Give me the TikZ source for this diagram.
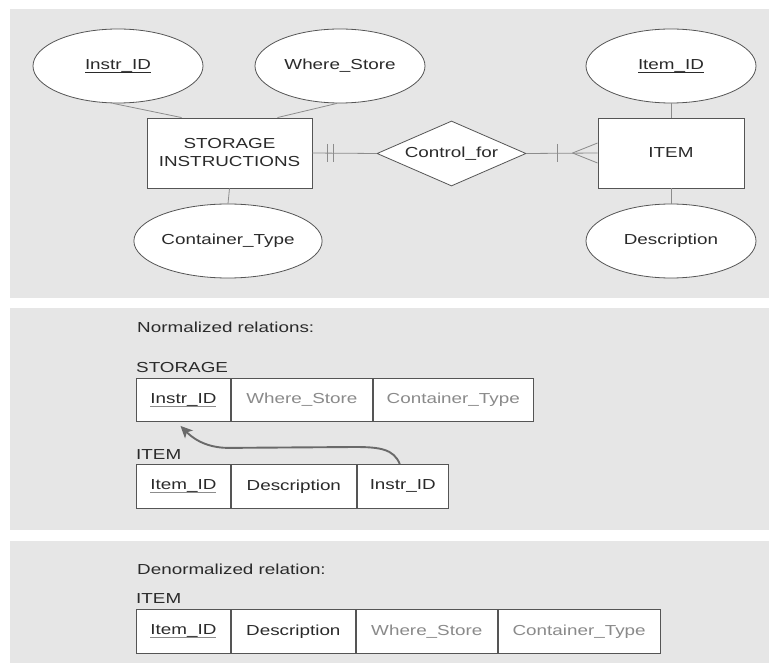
\documentclass[tikz,border=0pt]{standalone}
\usepackage{fontspec}
\setmainfont[FakeStretch=1.3]{Liberation Sans}
\usetikzlibrary{shapes.geometric,arrows.meta,calc}

\definecolor{panelbg}{HTML}{E6E6E6}
\definecolor{ink}{HTML}{2A2A2A}
\definecolor{softink}{HTML}{8A8A8A}
\definecolor{edgegray}{HTML}{555555}
\definecolor{linkgray}{HTML}{8C8C8C}
\definecolor{ulgray}{HTML}{8C8C8C}
\definecolor{arrowgray}{HTML}{6A6A6A}

% primary-key underline in a lighter tone than the text
\newcommand\pkey[1]{\setbox0\hbox{#1}\rlap{\color{ulgray}\rule[-3.2pt]{\wd0}{1pt}}\box0}
\newcommand\erkey[1]{\setbox0\hbox{#1}\rlap{\rule[-3.2pt]{\wd0}{0.8pt}}\box0}

\tikzset{
  txt/.style={font=\fontsize{14.5}{18}\selectfont, text=ink},
  panel/.style={fill=panelbg, draw=none},
  attr/.style={txt, ellipse, draw=edgegray, fill=white, line width=0.8pt,
               minimum width=170pt, minimum height=74pt, inner sep=0pt},
  entity/.style={txt, rectangle, draw=edgegray, fill=white, line width=0.9pt,
                 minimum height=70pt, inner sep=0pt, align=center},
  relship/.style={txt, diamond, aspect=2.3, draw=edgegray, fill=white, line width=0.8pt,
                  minimum width=149pt, minimum height=65pt, inner sep=0pt},
  link/.style={draw=linkgray, line width=0.8pt},
  cell/.style={txt, rectangle, draw=edgegray, fill=white, line width=0.9pt,
               anchor=north west, inner sep=0pt},
  faded/.style={text=softink},
  caption/.style={txt, anchor=west, inner sep=0pt},
  fk/.style={draw=arrowgray, line width=1.9pt,
             -{Stealth[length=12pt,width=11pt,inset=3pt]}},
}

\begin{document}
\begin{tikzpicture}[x=1pt, y=-1pt]
\useasboundingbox (0,0) rectangle (769,663);

% background panels
\fill[panel] (10,9) rectangle (769,298);
\fill[panel] (10,308) rectangle (769,530);
\fill[panel] (10,541) rectangle (769,663);

% ---------------- E-R diagram ----------------
\node[entity, minimum width=165pt] (si) at (229.5,153) {STORAGE\\INSTRUCTIONS};
\node[entity, minimum width=146pt] (item) at (671,153) {ITEM};
\node[relship] (ctl) at (451.5,153.5) {Control\_for};

\node[attr] (aid) at (118,66) {\erkey{Instr\_ID}};
\node[attr] (aws) at (340,66) {Where\_Store};
\node[attr] (act) at (228,241) {Container\_Type};
\node[attr] (iid) at (671,66) {\erkey{Item\_ID}};
\node[attr] (ids) at (671,241) {Description};

% attribute links
\draw[link] ($(aid.south)+(-5,0)$) -- ($(si.north west)+(35,0)$);
\draw[link] ($(aws.south)+(-3,0)$) -- ($(si.north east)+(-35,0)$);
\draw[link] (si.south) -- (act.north);
\draw[link] (iid.south) -- (item.north);
\draw[link] (item.south) -- (ids.north);

% relationship links: mandatory one / mandatory many
\draw[link] (si.east) -- (ctl.west);
\draw[link] ($(si.east)+(15,-9)$) -- ++(0,18);
\draw[link] ($(si.east)+(21,-9)$) -- ++(0,18);
\draw[link] (ctl.east) -- (item.west);
\draw[link] ($(item.west)+(-40,-9)$) -- ++(0,18);
\draw[link] ($(item.west)+(-25,0)$) -- ($(item.west)+(0,-10)$);
\draw[link] ($(item.west)+(-25,0)$) -- ($(item.west)+(0,10)$);

% ---------------- normalized relations ----------------
\node[caption] (normcap) at (137,327) {Normalized relations:};
\node[caption] (stcap) at (136,368) {STORAGE};
\node[cell, minimum width=94pt,  minimum height=43pt] (s1) at (136,378) {\pkey{Instr\_ID}};
\node[cell, minimum width=141pt, minimum height=43pt, faded] (s2) at (s1.north east) {Where\_Store};
\node[cell, minimum width=160pt, minimum height=43pt, faded] (s3) at (s2.north east) {Container\_Type};

\node[caption] (itcap) at (136,455) {ITEM};
\node[cell, minimum width=94pt,  minimum height=44pt] (i1) at (136,464) {\pkey{Item\_ID}};
\node[cell, minimum width=125pt, minimum height=44pt] (i2) at (i1.north east) {Description};
\node[cell, minimum width=91pt,  minimum height=44pt] (i3) at (i2.north east) {Instr\_ID};

% foreign key reference
\draw[fk] ($(i3.north)+(-3,0)$) .. controls +(-6,-15) and +(25,0) ..
          ($(i3.north)+(-48,-17)$) -- ($(s1.south)+(45,26)$)
          .. controls +(-25,0) and +(10,10) .. ($(s1.south)+(-3,4)$);

% ---------------- denormalized relation ----------------
\node[caption] (dencap) at (137,569) {Denormalized relation:};
\node[caption] (dicap) at (136,599) {ITEM};
\node[cell, minimum width=94pt,  minimum height=44pt] (d1) at (136,609) {\pkey{Item\_ID}};
\node[cell, minimum width=124pt, minimum height=44pt] (d2) at (d1.north east) {Description};
\node[cell, minimum width=141pt, minimum height=44pt, faded] (d3) at (d2.north east) {Where\_Store};
\node[cell, minimum width=162pt, minimum height=44pt, faded] (d4) at (d3.north east) {Container\_Type};
\end{tikzpicture}
\end{document}
